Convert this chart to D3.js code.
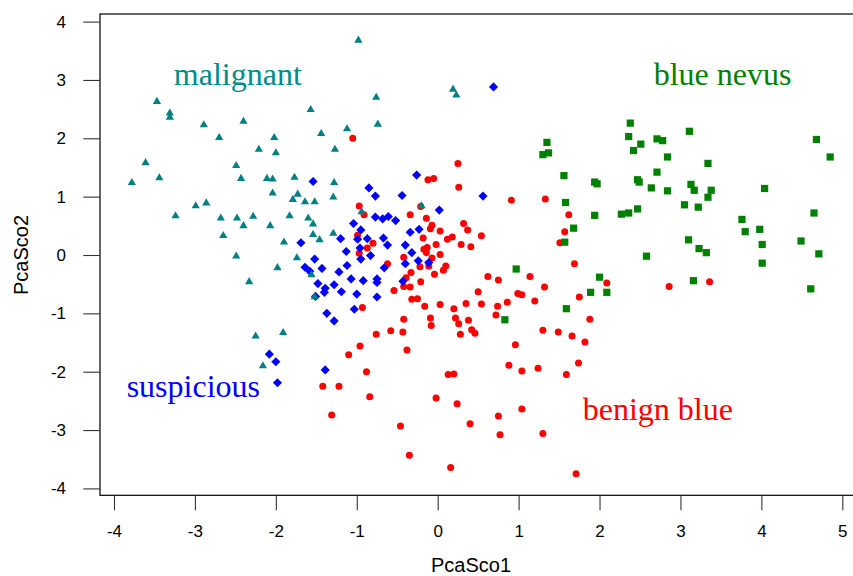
<!DOCTYPE html>
<html>
<head>
<meta charset="utf-8">
<script src="https://cdn.jsdelivr.net/npm/d3@7"></script>
<style>
  html, body { margin: 0; padding: 0; background: #fff; }
  svg { display: block; }
</style>
</head>
<body>
<script>
// ---- data (PcaSco1, PcaSco2) ----
const xTicks = [-4, -3, -2, -1, 0, 1, 2, 3, 4, 5];
const yTicks = [-4, -3, -2, -1, 0, 1, 2, 3, 4];

const benignBlue = [
  [-1.05,2.00],[0.25,1.57],[-0.12,1.29],[-0.05,1.31],[0.26,1.16],[0.91,0.94],[1.33,0.96],
  [-0.97,0.84],[-0.91,0.69],[-0.21,0.83],[-0.34,0.69],[-0.14,0.63],[0.32,0.54],[0.37,0.43],
  [-0.07,0.51],[-0.09,0.45],[0.03,0.41],[1.62,0.69],[1.57,0.40],[1.51,0.21],[0.54,0.33],
  [-0.18,0.29],[0.12,0.27],[0.18,0.31],[-0.99,0.34],[-0.80,0.20],[-0.87,0.12],[-0.97,0.03],
  [-0.02,0.18],[0.29,0.18],[0.41,0.14],[-0.17,0.10],[-0.13,0.13],[-0.14,0.04],[0.03,0.01],
  [-0.42,-0.04],[-0.07,-0.05],[0.10,-0.19],[0.07,-0.26],[-0.22,-0.20],[-0.11,-0.19],
  [-0.33,-0.30],[-0.04,-0.33],[-0.39,-0.39],[-0.21,-0.46],[-0.34,-0.55],[-0.42,-0.54],
  [-0.62,-0.15],[1.69,-0.15],[0.62,-0.37],[0.75,-0.43],[1.14,-0.37],[1.32,-0.55],[2.09,-0.48],
  [0.50,-0.63],[0.99,-0.66],[1.04,-0.68],[1.75,-0.72],[1.20,-0.79],[0.86,-0.81],[0.74,-0.88],
  [0.54,-0.84],[2.86,-0.54],[3.36,-0.46],[-0.32,-0.76],[-0.25,-0.75],[-0.54,-0.61],
  [-0.16,-0.88],[0.03,-0.85],[0.20,-0.92],[0.35,-0.83],[-0.93,-0.90],[0.72,-1.03],
  [-0.42,-1.10],[-0.09,-1.08],[0.22,-1.08],[0.26,-1.18],[0.38,-1.12],[-0.08,-1.21],[1.88,-1.10],
  [-0.58,-1.30],[-0.43,-1.32],[-0.76,-1.36],[0.28,-1.36],[0.42,-1.28],[0.46,-1.34],
  [1.30,-1.29],[1.49,-1.32],[1.66,-1.39],[1.82,-1.49],[0.96,-1.54],[-0.96,-1.56],[-1.10,-1.71],
  [-0.38,-1.63],[0.88,-1.89],[1.04,-1.99],[1.24,-1.94],[1.74,-1.85],[1.59,-2.05],[-0.88,-2.00],
  [0.13,-2.05],[0.20,-2.04],[-1.42,-2.25],[-1.22,-2.25],[-0.84,-2.43],[-0.02,-2.45],
  [0.24,-2.55],[1.04,-2.64],[-1.31,-2.74],[0.75,-2.76],[-0.46,-2.93],[0.40,-2.89],
  [0.77,-3.08],[1.30,-3.06],[-0.35,-3.43],[0.16,-3.64],[1.71,-3.75]
];

const blueNevus = [
  [2.38,2.26],[3.11,2.12],[4.68,1.98],[4.85,1.68],[1.35,1.93],[1.30,1.72],[1.37,1.75],
  [2.36,2.03],[2.51,1.90],[2.71,1.99],[2.78,1.96],[2.42,1.79],[2.84,1.68],[3.34,1.57],
  [2.71,1.42],[1.56,1.36],[1.94,1.25],[1.97,1.22],[2.47,1.29],[2.49,1.25],[2.64,1.15],
  [2.84,1.10],[3.13,1.21],[3.17,1.11],[3.38,1.11],[4.04,1.14],[3.34,0.99],[3.05,0.86],
  [3.22,0.82],[1.58,0.90],[1.94,0.68],[2.27,0.70],[2.36,0.72],[2.47,0.79],[3.76,0.61],
  [3.80,0.40],[3.98,0.44],[4.65,0.72],[1.68,0.46],[1.57,0.22],[3.10,0.26],[3.23,0.11],
  [3.32,0.04],[4.01,0.18],[4.49,0.24],[4.71,0.02],[2.58,-0.02],[4.01,-0.14],[0.97,-0.24],
  [2.00,-0.38],[3.16,-0.44],[1.89,-0.64],[2.09,-0.64],[4.61,-0.58],[1.59,-0.92],[0.83,-1.11]
];

const suspicious = [
  [0.69,2.88],[-1.54,1.26],[-0.26,1.37],[-0.85,1.15],[-0.77,1.01],[-0.44,1.02],[0.56,1.01],
  [0.02,0.77],[-0.77,0.65],[-0.68,0.62],[-0.61,0.66],[-0.52,0.59],[-1.04,0.54],[-0.95,0.43],
  [-0.23,0.44],[-0.34,0.39],[-1.20,0.28],[-0.99,0.27],[-0.87,0.28],[-0.67,0.29],[-0.62,0.17],
  [-0.96,0.12],[-0.40,0.17],[-0.32,0.04],[-0.24,-0.10],[-0.11,-0.13],[-0.40,-0.15],
  [-1.13,0.06],[-0.83,-0.01],[-0.95,-0.07],[-1.69,0.21],[-1.52,-0.07],[-1.64,-0.21],
  [-1.58,-0.28],[-1.43,-0.23],[-1.12,-0.18],[-1.22,-0.29],[-0.66,-0.22],[-1.07,-0.41],
  [-0.92,-0.44],[-0.75,-0.41],[-0.75,-0.47],[-0.43,-0.45],[-1.48,-0.49],[-1.39,-0.57],
  [-1.40,-0.64],[-1.51,-0.71],[-1.28,-0.51],[-1.19,-0.63],[-1.00,-0.67],[-0.75,-0.72],
  [-1.03,-0.93],[-1.37,-1.00],[-1.28,-1.13],[-2.08,-1.70],[-2.00,-1.83],[-1.98,-2.19],
  [-1.39,-1.97]
];

const malignant = [
  [-0.98,3.68],[-3.47,2.63],[-3.31,2.43],[-3.31,2.36],[-1.57,2.49],[-2.89,2.23],[-2.40,2.29],
  [-2.70,2.01],[-2.02,2.01],[-2.21,1.81],[-2.00,1.75],[-1.44,2.08],[-1.12,2.16],[-1.27,1.81],
  [-3.61,1.58],[-2.49,1.53],[-3.78,1.24],[-3.44,1.32],[-2.43,1.31],[-2.11,1.31],[-2.04,1.30],
  [-1.77,1.33],[-1.28,1.24],[-2.04,1.06],[-1.73,1.04],[-1.79,0.95],[-1.64,0.91],[-1.52,0.91],
  [-1.29,0.99],[-2.99,0.84],[-2.86,0.89],[-3.24,0.67],[-2.68,0.63],[-2.48,0.63],[-2.28,0.66],
  [-1.83,0.67],[-1.60,0.63],[0.19,2.84],[0.23,2.74],[-0.76,2.70],[-0.74,2.24],[-1.54,0.53],
  [-2.07,0.50],[-1.54,0.35],[-1.29,0.37],[-0.94,0.74],[-0.20,0.84],[-2.65,0.33],[-2.40,0.50],
  [-1.90,0.22],[-1.46,0.26],[-2.49,-0.02],[-1.98,-0.22],[-1.74,-0.05],[-1.56,-0.34],
  [-2.33,-0.46],[-1.52,-0.72],[-2.25,-1.39],[-1.91,-1.33],[-2.16,-1.90]
];

const groupLabels = [
  { text: "malignant",   x: -2.47, y: 2.92,  color: "#008b8b" },
  { text: "blue nevus",  x: 3.52,  y: 2.92,  color: "#008000" },
  { text: "suspicious",  x: -3.02, y: -2.43, color: "#0000ff" },
  { text: "benign blue", x: 2.72,  y: -2.83, color: "#ff0000" }
];

// ---- layout ----
const W = 853, H = 576;
const box = { left: 100, top: 14, right: 860, bottom: 495.3 };

const x = d3.scaleLinear().domain([-4, 5]).range([114, 842.3]);
const y = d3.scaleLinear().domain([-4, 4]).range([488.4, 21.6]);

const svg = d3.select("body").append("svg")
  .attr("width", W).attr("height", H)
  .attr("font-family", "'Liberation Sans', Arial, Helvetica, sans-serif");

// box (right edge lies outside the picture)
svg.append("rect")
  .attr("x", box.left).attr("y", box.top)
  .attr("width", box.right - box.left).attr("height", box.bottom - box.top)
  .attr("fill", "none").attr("stroke", "#000").attr("stroke-width", 1.2);

const fmt = d => String(d);

// axes
const gx = svg.append("g")
  .attr("transform", `translate(0,${box.bottom})`)
  .call(d3.axisBottom(x).tickValues(xTicks).tickSize(15).tickPadding(14.5).tickFormat(fmt));
gx.select(".domain").remove();
gx.selectAll(".tick line").attr("stroke", "#333").attr("stroke-width", 1.1);
gx.selectAll(".tick text").attr("font-size", 17).attr("fill", "#000")
  .attr("font-family", "'Liberation Sans', Arial, sans-serif");

const gy = svg.append("g")
  .attr("transform", `translate(${box.left},0)`)
  .call(d3.axisLeft(y).tickValues(yTicks).tickSize(16.7).tickPadding(17.3).tickFormat(fmt));
gy.select(".domain").remove();
gy.selectAll(".tick line").attr("stroke", "#333").attr("stroke-width", 1.1);
gy.selectAll(".tick text").attr("font-size", 17).attr("fill", "#000")
  .attr("font-family", "'Liberation Sans', Arial, sans-serif");

// axis titles
svg.append("text")
  .attr("x", 471).attr("y", 565).attr("dy", "0.35em")
  .attr("text-anchor", "middle").attr("font-size", 20).attr("fill", "#000")
  .text("PcaSco1");
svg.append("text")
  .attr("transform", "translate(21,255) rotate(-90)").attr("dy", "0.35em")
  .attr("text-anchor", "middle").attr("font-size", 20).attr("fill", "#000")
  .text("PcaSco2");

// points
const plot = svg.append("g");

plot.selectAll("circle.benign").data(benignBlue).enter().append("circle")
  .attr("class", "benign")
  .attr("cx", d => x(d[0])).attr("cy", d => y(d[1]))
  .attr("r", 3.5).attr("fill", "#ff0000");

const sq = d3.symbol().type(d3.symbolSquare).size(52);
plot.selectAll("path.nevus").data(blueNevus).enter().append("path")
  .attr("class", "nevus")
  .attr("d", sq)
  .attr("transform", d => `translate(${x(d[0])},${y(d[1])})`)
  .attr("fill", "#008000");

const dia = d3.symbol().type(d3.symbolSquare).size(42);
plot.selectAll("path.susp").data(suspicious).enter().append("path")
  .attr("class", "susp")
  .attr("d", dia)
  .attr("transform", d => `translate(${x(d[0])},${y(d[1])}) rotate(45)`)
  .attr("fill", "#0000ff");

const tri = d3.symbol().type(d3.symbolTriangle).size(29);
plot.selectAll("path.malig").data(malignant).enter().append("path")
  .attr("class", "malig")
  .attr("d", tri)
  .attr("transform", d => `translate(${x(d[0])},${y(d[1])})`)
  .attr("fill", "#008080");

// group labels
svg.selectAll("text.glabel").data(groupLabels).enter().append("text")
  .attr("class", "glabel")
  .attr("x", d => x(d.x)).attr("y", d => y(d.y))
  .attr("text-anchor", "middle")
  .attr("font-family", "'Liberation Serif', 'Times New Roman', Times, serif")
  .attr("font-size", 32)
  .attr("fill", d => d.color)
  .text(d => d.text);
</script>
</body>
</html>
